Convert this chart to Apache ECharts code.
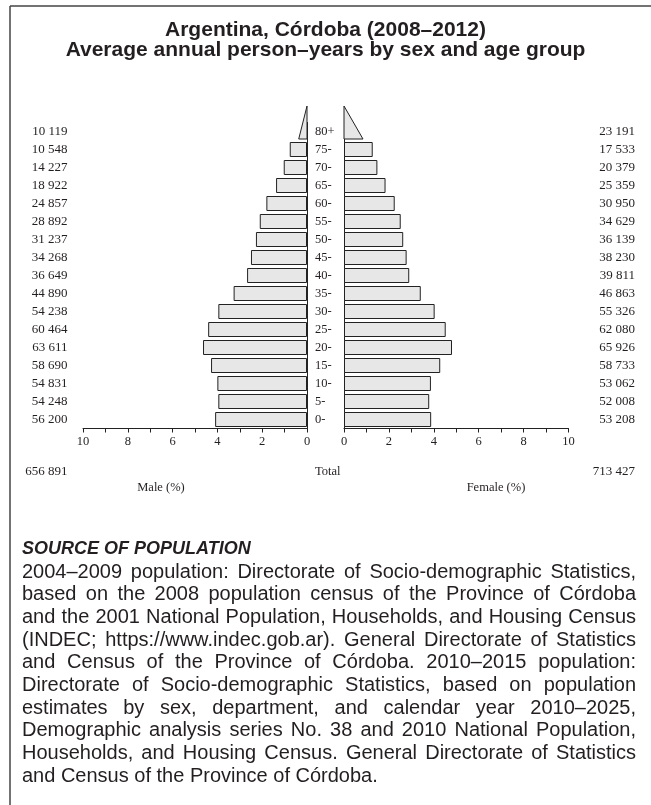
<!DOCTYPE html>
<html><head><meta charset="utf-8">
<script src="https://cdn.jsdelivr.net/npm/echarts@6/dist/echarts.min.js"></script>
<style>html,body{margin:0;padding:0;background:#fff}#c{width:651px;height:805px}</style>
</head><body><div id="c"></div>
<script>
const ageGroups = ['0-','5-','10-','15-','20-','25-','30-','35-','40-','45-','50-','55-','60-','65-','70-','75-','80+'];
const maleCounts = [56200,54248,54831,58690,63611,60464,54238,44890,36649,34268,31237,28892,24857,18922,14227,10548,10119];
const femaleCounts = [53208,52008,53062,58733,65926,62080,55326,46863,39811,38230,36139,34629,30950,25359,20379,17533,23191];
const maleTotal = 656891;
const femaleTotal = 713427;
const totalLabel = 'Total';
const maleAxisName = 'Male (%)';
const femaleAxisName = 'Female (%)';
const titleLines = ['Argentina, Córdoba (2008–2012)', 'Average annual person–years by sex and age group'];
const sourceHeading = 'SOURCE OF POPULATION';
const sourceLines = [
  '2004–2009 population: Directorate of Socio-demographic Statistics,',
  'based on the 2008 population census of the Province of Córdoba',
  'and the 2001 National Population, Households, and Housing Census',
  '(INDEC; https://www.indec.gob.ar). General Directorate of Statistics',
  'and Census of the Province of Córdoba. 2010–2015 population:',
  'Directorate of Socio-demographic Statistics, based on population',
  'estimates by sex, department, and calendar year 2010–2025,',
  'Demographic analysis series No. 38 and 2010 National Population,',
  'Households, and Housing Census. General Directorate of Statistics',
  'and Census of the Province of Córdoba.'
];

const grand = maleTotal + femaleTotal;
const pct = c => c / grand * 100;
const fmt = n => String(n).replace(/\B(?=(\d{3})+(?!\d))/g, ' ');
const last = ageGroups.length - 1;

const SERIF = '"Liberation Serif", "Times New Roman", serif';
const SANS = '"Liberation Sans", Arial, sans-serif';
const INK = '#231f20';
const FILL = '#e7e7e7';

const chart = echarts.init(document.getElementById('c'), null, {renderer: 'canvas'});

function triangle(params, api) {
  const v = api.value(0), idx = api.value(1);
  const p0 = api.coord([0, idx]);
  const pv = api.coord([v * 0.5, idx]);
  const bottom = p0[1] + 7.5;
  const top = bottom - 33;
  return {
    type: 'polygon',
    shape: {points: [[p0[0], bottom], [pv[0], bottom], [p0[0], top]]},
    style: {fill: FILL, stroke: '#222', lineWidth: 1}
  };
}

const valueAxis = (grid, inverse) => ({
  gridIndex: grid, type: 'value', min: 0, max: 10, interval: 1, inverse: inverse,
  axisLine: {show: true, lineStyle: {color: '#222', width: 1}},
  axisTick: {show: true, inside: false, length: 4, lineStyle: {color: '#222'}},
  axisLabel: {formatter: v => (v % 2 === 0 ? String(v) : ''), fontFamily: SERIF, fontSize: 12.5, color: INK, margin: 7, showMinLabel: true, showMaxLabel: true},
  splitLine: {show: false}
});

const graphics = [];
graphics.push({type: 'line', shape: {x1: 10, y1: 6, x2: 651, y2: 6}, style: {stroke: '#444', lineWidth: 1.5}});
graphics.push({type: 'line', shape: {x1: 10, y1: 6, x2: 10, y2: 805}, style: {stroke: '#444', lineWidth: 1.5}});
titleLines.forEach((t, i) => {
  graphics.push({type: 'text', x: 325.5, y: 30 + i * 20, style: {text: t, font: 'bold 21px ' + SANS, fill: INK, textAlign: 'center', textVerticalAlign: 'middle'}});
});
const smallFont = '12.5px ' + SERIF;
graphics.push({type: 'text', x: 67.5, y: 472, style: {text: fmt(maleTotal), font: '13px ' + SERIF, fill: INK, textAlign: 'right', textVerticalAlign: 'middle'}});
graphics.push({type: 'text', x: 315, y: 472, style: {text: totalLabel, font: smallFont, fill: INK, textAlign: 'left', textVerticalAlign: 'middle'}});
graphics.push({type: 'text', x: 635, y: 472, style: {text: fmt(femaleTotal), font: '13px ' + SERIF, fill: INK, textAlign: 'right', textVerticalAlign: 'middle'}});
graphics.push({type: 'text', x: 161, y: 487.5, style: {text: maleAxisName, font: smallFont, fill: INK, textAlign: 'center', textVerticalAlign: 'middle'}});
graphics.push({type: 'text', x: 496, y: 487.5, style: {text: femaleAxisName, font: smallFont, fill: INK, textAlign: 'center', textVerticalAlign: 'middle'}});

graphics.push({type: 'text', x: 22, y: 549, style: {text: sourceHeading, font: 'italic bold 18px ' + SANS, fill: INK, textAlign: 'left', textVerticalAlign: 'middle'}});

const bodyFont = '20px ' + SANS;
const ctx = document.createElement('canvas').getContext('2d');
ctx.font = bodyFont;
const textLeft = 22, textWidth = 614, firstLineY = 572, lineStep = 22.7;
sourceLines.forEach((line, li) => {
  const y = firstLineY + li * lineStep;
  const words = line.split(' ');
  const isLast = li === sourceLines.length - 1;
  const widths = words.map(w => ctx.measureText(w).width);
  const sum = widths.reduce((a, b) => a + b, 0);
  const gap = isLast ? ctx.measureText(' ').width : (textWidth - sum) / (words.length - 1);
  let x = textLeft;
  words.forEach((w, wi) => {
    graphics.push({type: 'text', x: x, y: y, style: {text: w, font: bodyFont, fill: INK, textAlign: 'left', textVerticalAlign: 'middle'}});
    x += widths[wi] + gap;
  });
});

const option = {
  animation: false,
  backgroundColor: '#fff',
  grid: [
    {left: 83, top: 122.5, width: 224, height: 306},
    {left: 344, top: 122.5, width: 224.5, height: 306}
  ],
  xAxis: [valueAxis(0, true), valueAxis(1, false)],
  yAxis: [
    {gridIndex: 0, type: 'category', data: ageGroups, position: 'right',
     axisLine: {show: true, lineStyle: {color: '#222', width: 1}}, axisTick: {show: false}, axisLabel: {show: false}},
    {gridIndex: 0, type: 'category', data: ageGroups, position: 'left',
     axisLine: {show: false}, axisTick: {show: false},
     axisLabel: {formatter: (v, i) => fmt(maleCounts[i]), align: 'right', margin: 15.5, fontFamily: SERIF, fontSize: 13, color: INK}},
    {gridIndex: 1, type: 'category', data: ageGroups, position: 'left',
     axisLine: {show: true, lineStyle: {color: '#222', width: 1}}, axisTick: {show: false},
     axisLabel: {formatter: v => v, align: 'left', margin: 29, fontFamily: SERIF, fontSize: 12.5, color: INK}},
    {gridIndex: 1, type: 'category', data: ageGroups, position: 'right',
     axisLine: {show: false}, axisTick: {show: false},
     axisLabel: {formatter: (v, i) => fmt(femaleCounts[i]), align: 'right', margin: 66.5, fontFamily: SERIF, fontSize: 13, color: INK}}
  ],
  series: [
    {type: 'bar', xAxisIndex: 0, yAxisIndex: 0, barWidth: 15, silent: true,
     data: maleCounts.map((c, i) => (i === last ? '-' : pct(c))),
     itemStyle: {color: FILL, borderColor: '#222', borderWidth: 1}},
    {type: 'bar', xAxisIndex: 1, yAxisIndex: 2, barWidth: 15, silent: true,
     data: femaleCounts.map((c, i) => (i === last ? '-' : pct(c))),
     itemStyle: {color: FILL, borderColor: '#222', borderWidth: 1}},
    {type: 'custom', xAxisIndex: 0, yAxisIndex: 0, clip: false, silent: true, renderItem: triangle,
     data: [[pct(maleCounts[last]), last]]},
    {type: 'custom', xAxisIndex: 1, yAxisIndex: 2, clip: false, silent: true, renderItem: triangle,
     data: [[pct(femaleCounts[last]), last]]}
  ],
  graphic: {elements: graphics}
};
chart.setOption(option);
</script>
</body></html>
